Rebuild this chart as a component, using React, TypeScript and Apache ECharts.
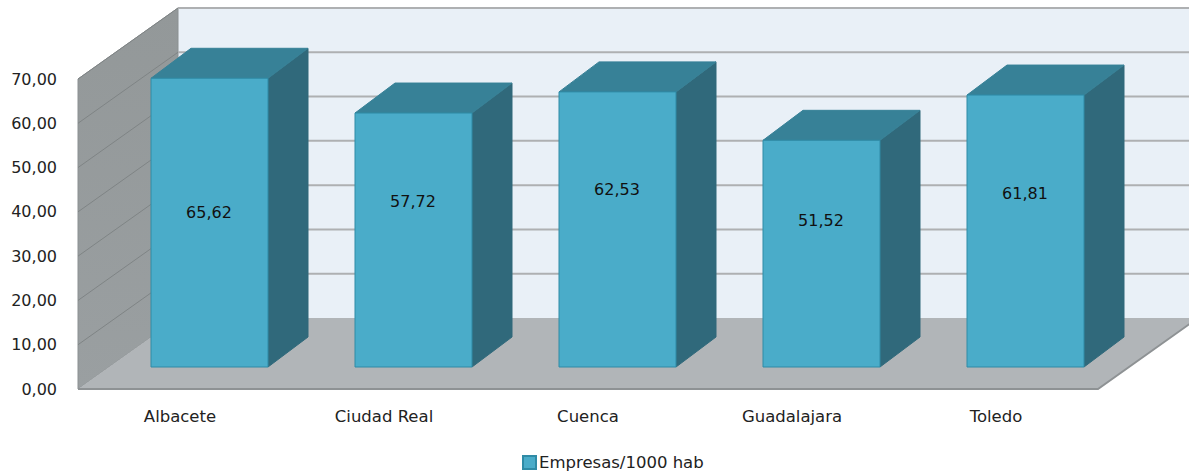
import React, { useEffect, useRef } from "react";
import * as echarts from "echarts";

const categories = ["Albacete", "Ciudad Real", "Cuenca", "Guadalajara", "Toledo"];
const values = [65.62, 57.72, 62.53, 51.52, 61.81];
const seriesName = "Empresas/1000 hab";
const gridValues = [10, 20, 30, 40, 50, 60, 70];

// presentation constants
const labelShifts = [-10.5, -39, -39.5, -33, -38];
const FONT = '"DejaVu Sans", sans-serif';
const WALL_DX = 100;
const WALL_DY = -71;
const BAR_DX = 29.5;
const BAR_DY = -22;
const BAR_W = 117;
const BOX_DX = 40;
const BOX_DY = -30;
const BAR_SCALE = 0.9935;

const fmt = (v: number) => v.toFixed(2).replace(".", ",");

function renderWalls(params: any, api: any) {
  const cs = params.coordSys;
  const l = cs.x;
  const r = cs.x + cs.width;
  const b = api.coord([0, 0])[1];
  const t = api.coord([0, 70])[1];
  const children: any[] = [
    {
      type: "polygon",
      shape: { points: [[l + WALL_DX, t + WALL_DY], [1300, t + WALL_DY], [1300, b + WALL_DY], [l + WALL_DX, b + WALL_DY]] },
      style: { fill: "#e9f0f7" },
    },
    {
      type: "polygon",
      shape: { points: [[l, t], [l + WALL_DX, t + WALL_DY], [l + WALL_DX, b + WALL_DY], [l, b]] },
      style: {
        fill: new echarts.graphic.LinearGradient(0, 0, 0, 1, [
          { offset: 0, color: "#939899" },
          { offset: 1, color: "#9a9fa1" },
        ]),
        stroke: "#8b9092",
        lineWidth: 1,
      },
    },
  ];
  gridValues.forEach((v) => {
    const y = api.coord([0, v])[1];
    children.push({
      type: "line",
      shape: { x1: l + WALL_DX, y1: y + WALL_DY, x2: 1300, y2: y + WALL_DY },
      style: { stroke: "#aeb0b2", lineWidth: 2 },
    });
    children.push({
      type: "line",
      shape: { x1: l, y1: y, x2: l + WALL_DX, y2: y + WALL_DY },
      style: { stroke: "#7f8485", lineWidth: 1 },
    });
  });
  children.push({
    type: "polygon",
    shape: { points: [[l, b], [r, b], [r + WALL_DX, b + WALL_DY], [l + WALL_DX, b + WALL_DY]] },
    style: { fill: "#b1b5b8" },
  });
  children.push({
    type: "polyline",
    shape: { points: [[l, b], [r, b], [r + WALL_DX, b + WALL_DY]] },
    style: { stroke: "#8e9294", lineWidth: 2, fill: "none" },
  });
  return { type: "group", children };
}

function renderBar(params: any, api: any) {
  const idx = api.value(0);
  const val = api.value(1);
  const p0 = api.coord([idx, 0]);
  const pv = api.coord([idx, val]);
  const xl = p0[0] + BAR_DX - BAR_W / 2;
  const xr = xl + BAR_W;
  const yb = p0[1] + BAR_DY;
  const yt = yb + (pv[1] - p0[1]) * BAR_SCALE;
  const edge = { stroke: "#2f8ba6", lineWidth: 1 };
  return {
    type: "group",
    children: [
      {
        type: "polygon",
        shape: { points: [[xr, yt], [xr + BOX_DX, yt + BOX_DY], [xr + BOX_DX, yb + BOX_DY], [xr, yb]] },
        style: { fill: "#30697b", stroke: "#30697b", lineWidth: 1 },
      },
      {
        type: "polygon",
        shape: { points: [[xl, yt], [xl + BOX_DX, yt + BOX_DY], [xr + BOX_DX, yt + BOX_DY], [xr, yt]] },
        style: { fill: "#378197", stroke: "#378197", lineWidth: 1 },
      },
      {
        type: "rect",
        shape: { x: xl, y: yt, width: BAR_W, height: yb - yt },
        style: { fill: "#4aacc9", ...edge },
      },
      {
        type: "text",
        x: (xl + xr) / 2 - 0.5,
        y: (yt + yb) / 2 + labelShifts[params.dataIndex],
        style: {
          text: fmt(val),
          fill: "#111111",
          font: `16px ${FONT}`,
          align: "center",
          verticalAlign: "middle",
        },
      },
    ],
  };
}

export default function App() {
  const ref = useRef<HTMLDivElement>(null);
  useEffect(() => {
    const chart = echarts.init(ref.current!, null, { renderer: "svg" });
    chart.setOption({
      animation: false,
      backgroundColor: "#ffffff",
      grid: { left: 78, top: 79, width: 1020, height: 310 },
      legend: {
        data: [seriesName],
        left: 517,
        top: 449,
        itemWidth: 13,
        itemHeight: 13,
        icon: "rect",
        textStyle: { fontFamily: FONT, fontSize: 16.5, color: "#222222", padding: [0, 0, 0, -2] },
      },
      xAxis: {
        type: "category",
        data: categories,
        axisLine: { show: false },
        axisTick: { show: false },
        axisLabel: { fontFamily: FONT, fontSize: 16.5, color: "#222222", margin: 19 },
      },
      yAxis: {
        type: "value",
        min: 0,
        max: 70,
        interval: 10,
        axisLine: { show: false },
        axisTick: { show: false },
        splitLine: { show: false },
        axisLabel: {
          fontFamily: FONT,
          fontSize: 16,
          color: "#222222",
          margin: 21,
          padding: [4, 0, 0, 0],
          formatter: (v: number) => fmt(v),
        },
      },
      series: [
        {
          name: "walls",
          type: "custom",
          z: 1,
          silent: true,
          renderItem: renderWalls,
          encode: { x: 0, y: 1 },
          data: [[0, 0]],
        },
        {
          name: seriesName,
          type: "custom",
          z: 2,
          renderItem: renderBar,
          encode: { x: 0, y: 1 },
          itemStyle: { color: "#4aacc9", borderColor: "#2f8ba6", borderWidth: 1 },
          data: values.map((v, i) => [i, v]),
        },
      ],
    });
    return () => chart.dispose();
  }, []);
  return <div ref={ref} style={{ position: "fixed", left: 0, top: 0, width: 1189, height: 473 }} />;
}
